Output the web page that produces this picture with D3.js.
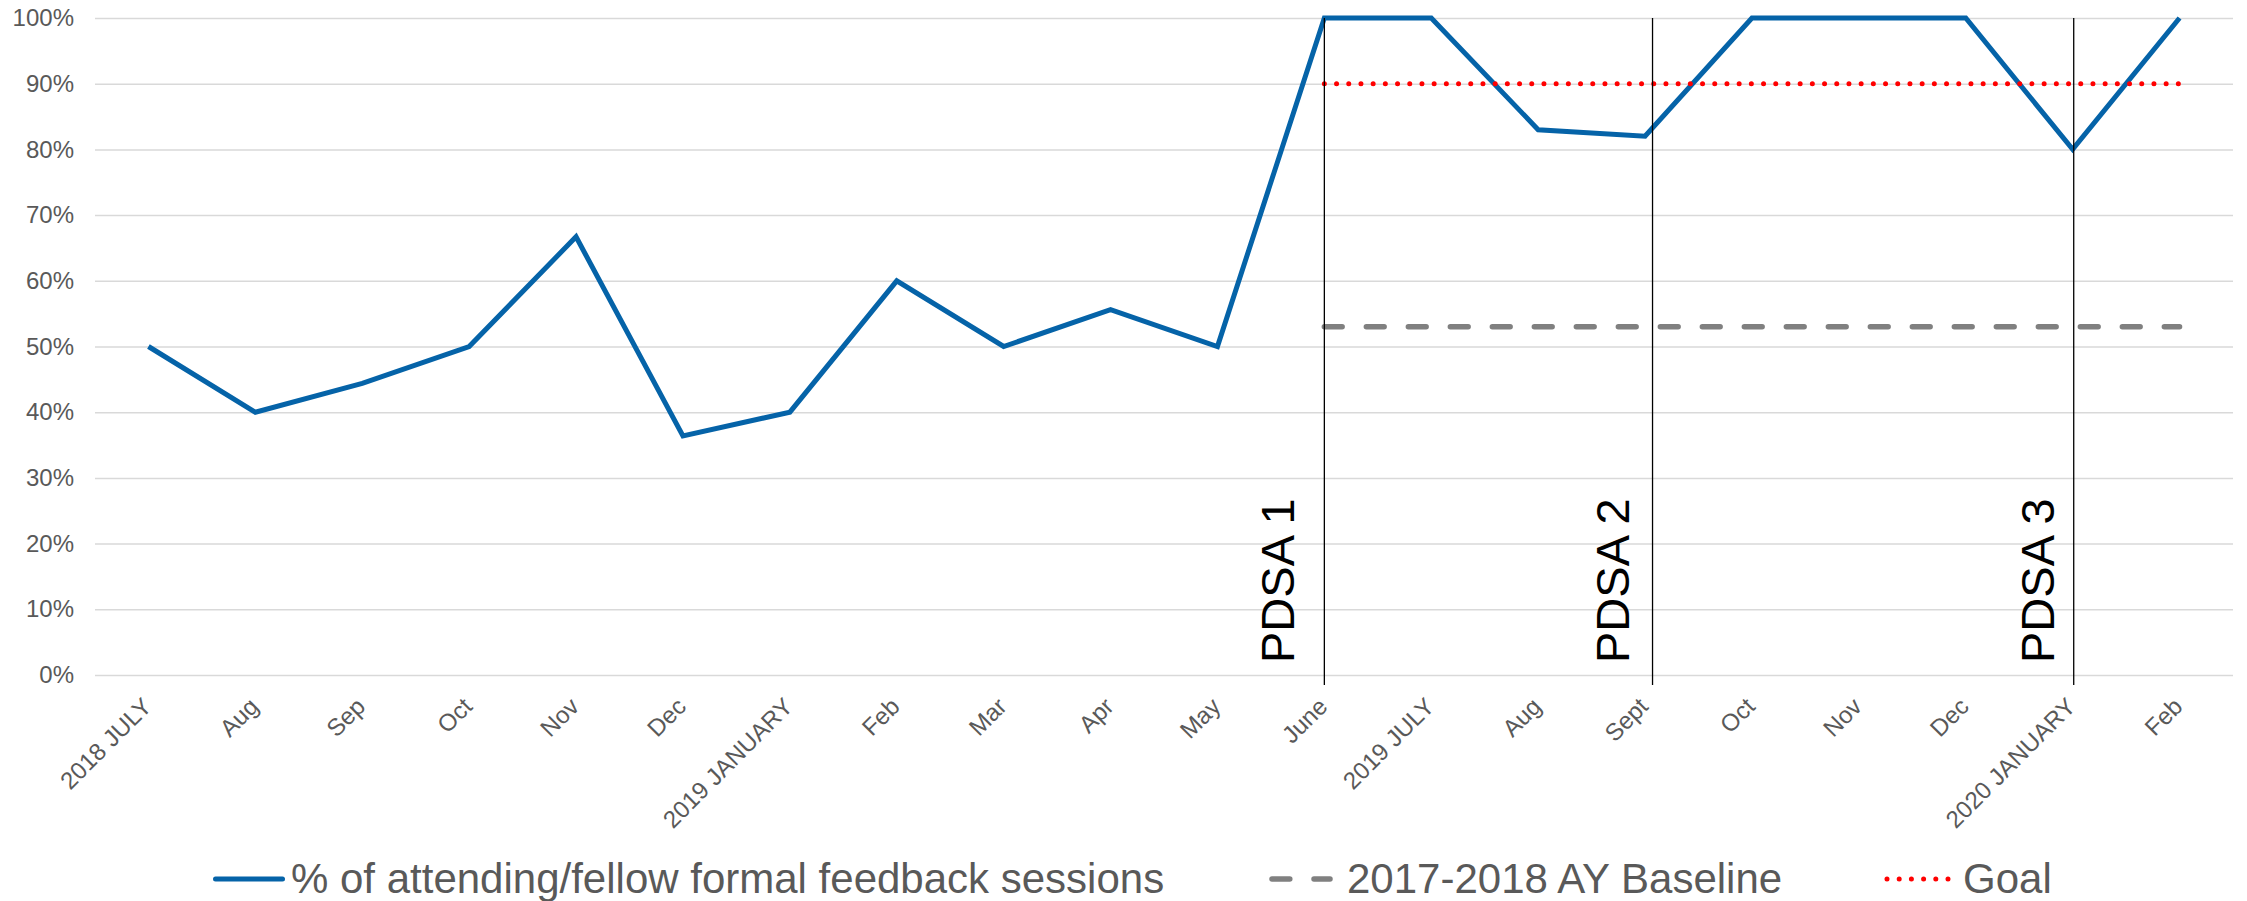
<!DOCTYPE html>
<html>
<head>
<meta charset="utf-8">
<script src="https://cdn.jsdelivr.net/npm/d3@7"></script>
<style>
  html, body { margin: 0; padding: 0; background: #ffffff; }
  svg { display: block; }
  text { font-family: "Liberation Sans", Arial, Helvetica, sans-serif; }
</style>
</head>
<body>
<svg id="chart" width="2247" height="901"></svg>
<script>
// Months on the x axis (July 2018 – February 2020)
const categories = [
  "2018 JULY", "Aug", "Sep", "Oct", "Nov", "Dec", "2019 JANUARY", "Feb", "Mar", "Apr",
  "May", "June", "2019 JULY", "Aug", "Sept", "Oct", "Nov", "Dec", "2020 JANUARY", "Feb"
];

// % of attending/fellow formal feedback sessions, per month
const feedbackPct = [
  50, 40, 44.4, 50, 66.7, 36.4, 40, 60, 50, 55.6,
  50, 100, 100, 83, 82, 100, 100, 100, 80, 100
];

// 2017-2018 academic-year baseline, shown from June 2019 onward
const baselinePct = [
  null, null, null, null, null, null, null, null, null, null,
  null, 53, 53, 53, 53, 53, 53, 53, 53, 53
];

// Goal, shown from June 2019 onward
const goalPct = [
  null, null, null, null, null, null, null, null, null, null,
  null, 90, 90, 90, 90, 90, 90, 90, 90, 90
];

// Y axis ticks (percent)
const yTicks = [0, 10, 20, 30, 40, 50, 60, 70, 80, 90, 100];

// PDSA cycle markers: label and month index where each cycle starts
const pdsaLabels = ["PDSA 1", "PDSA 2", "PDSA 3"];
const pdsaAt = [11, 14.07, 18.01];

// Legend entries
const legendLabels = [
  "% of attending/fellow formal feedback sessions",
  "2017-2018 AY Baseline",
  "Goal"
];

// ---- layout & styles ----
const plot = { left: 95, right: 2233, top: 18, bottom: 675 };
const colors = {
  series: "#0563a8",
  baseline: "#808080",
  goal: "#ff0000",
  grid: "#d9d9d9",
  text: "#595959",
  marker: "#000000"
};
const pdsaLabelGap = [30, 24, 20];
const legendX = [213, 1269, 1885];
const legendY = 879;

const svg = d3.select("#chart");

const x = d3.scaleLinear()
  .domain([-0.5, categories.length - 0.5])
  .range([plot.left, plot.right]);

const y = d3.scaleLinear()
  .domain([0, 100])
  .range([plot.bottom, plot.top]);

// Y axis with horizontal gridlines
const yAxis = svg.append("g")
  .attr("transform", `translate(${plot.left},0)`)
  .call(d3.axisLeft(y)
    .tickValues(yTicks)
    .tickFormat(d => d + "%")
    .tickSize(-(plot.right - plot.left))
    .tickPadding(21));
yAxis.select(".domain").remove();
yAxis.selectAll(".tick line")
  .attr("stroke", colors.grid)
  .attr("stroke-width", 1.5);
yAxis.selectAll(".tick text")
  .attr("fill", colors.text)
  .attr("font-size", 24)
  .attr("font-family", '"Liberation Sans", Arial, sans-serif');

// X axis with rotated month labels
const xAxis = svg.append("g")
  .attr("transform", `translate(0,${plot.bottom})`)
  .call(d3.axisBottom(x)
    .tickValues(d3.range(categories.length))
    .tickFormat(i => categories[i])
    .tickSize(0));
xAxis.select(".domain").remove();
xAxis.selectAll(".tick text")
  .attr("fill", colors.text)
  .attr("font-size", 24)
  .attr("font-family", '"Liberation Sans", Arial, sans-serif')
  .attr("text-anchor", "end")
  .attr("x", 0)
  .attr("y", 0)
  .attr("dy", 0)
  .attr("transform", "translate(4,33) rotate(-45)");

// Monthly feedback series
const line = d3.line()
  .defined(d => d != null)
  .x((d, i) => x(i))
  .y(d => y(d));

svg.append("path")
  .datum(feedbackPct)
  .attr("fill", "none")
  .attr("stroke", colors.series)
  .attr("stroke-width", 5)
  .attr("stroke-linejoin", "miter")
  .attr("d", line);

// Baseline (dashed grey)
svg.append("path")
  .datum(baselinePct)
  .attr("fill", "none")
  .attr("stroke", colors.baseline)
  .attr("stroke-width", 5.5)
  .attr("stroke-linecap", "round")
  .attr("stroke-dasharray", "17.8 24.2")
  .attr("d", line);

// Goal (dotted red)
svg.append("path")
  .datum(goalPct)
  .attr("fill", "none")
  .attr("stroke", colors.goal)
  .attr("stroke-width", 5)
  .attr("stroke-linecap", "round")
  .attr("stroke-dasharray", "0 12.2")
  .attr("d", line);

// PDSA vertical markers and labels
const pdsa = svg.append("g");
pdsa.selectAll("line")
  .data(pdsaAt)
  .join("line")
  .attr("x1", d => x(d))
  .attr("x2", d => x(d))
  .attr("y1", plot.top)
  .attr("y2", plot.bottom + 10)
  .attr("stroke", colors.marker)
  .attr("stroke-width", 1.3);

pdsa.selectAll("text")
  .data(pdsaLabels)
  .join("text")
  .attr("transform", (d, i) => `translate(${x(pdsaAt[i]) - pdsaLabelGap[i]},${plot.bottom - 12}) rotate(-90)`)
  .attr("fill", "#000000")
  .attr("font-size", 47)
  .text(d => d);

// Legend
const legend = svg.append("g");
const items = legend.selectAll("g")
  .data(legendLabels)
  .join("g")
  .attr("transform", (d, i) => `translate(${legendX[i]},${legendY})`);

items.each(function(d, i) {
  const g = d3.select(this);
  if (i === 0) {
    g.append("line")
      .attr("x1", 2.5).attr("x2", 69.5)
      .attr("stroke", colors.series)
      .attr("stroke-width", 5)
      .attr("stroke-linecap", "round");
  } else if (i === 1) {
    g.append("line")
      .attr("x1", 3).attr("x2", 61)
      .attr("stroke", colors.baseline)
      .attr("stroke-width", 5.5)
      .attr("stroke-linecap", "round")
      .attr("stroke-dasharray", "17.8 24.2");
  } else {
    g.append("line")
      .attr("x1", 2).attr("x2", 63.5)
      .attr("stroke", colors.goal)
      .attr("stroke-width", 5)
      .attr("stroke-linecap", "round")
      .attr("stroke-dasharray", "0 12.2");
  }
  g.append("text")
    .attr("x", 78)
    .attr("y", 14)
    .attr("fill", colors.text)
    .attr("font-size", 42)
    .text(d);
});
</script>
</body>
</html>
